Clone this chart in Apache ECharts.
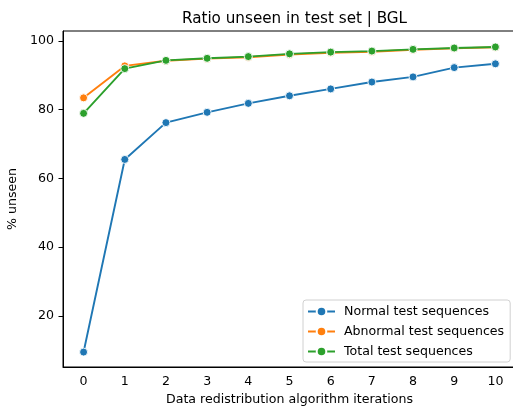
<!DOCTYPE html>
<html><head><meta charset="utf-8">
<script src="https://cdn.jsdelivr.net/npm/echarts@6/dist/echarts.min.js"></script>
<style>html,body{margin:0;padding:0;background:#fff}#c{width:513px;height:409px}</style>
</head><body><div id="c"></div>
<script>
const categories = ['0','1','2','3','4','5','6','7','8','9','10'];
const normalSeq = [9.5, 65.5, 76.2, 79.2, 81.8, 84.0, 86.0, 88.0, 89.5, 92.2, 93.3];
const abnormalSeq = [83.4, 92.7, 94.2, 94.8, 95.2, 96.0, 96.5, 96.8, 97.4, 97.8, 98.1];
const totalSeq = [78.9, 91.9, 94.3, 94.9, 95.4, 96.2, 96.7, 97.0, 97.5, 97.9, 98.2];
const yTicks = [20, 40, 60, 80, 100];

const font = 'DejaVu Sans';
const fs = 12.6;
const chart = echarts.init(document.getElementById('c'), null, {renderer: 'canvas'});
function mk(name, data, color, z) {
  return {
    name, type: 'line', data, z,
    symbol: 'circle', symbolSize: 8,
    lineStyle: {color, width: 1.9},
    itemStyle: {color, borderColor: '#fff', borderWidth: 0.9},
    emphasis: {disabled: true},
    animation: false
  };
}
chart.setOption({
  animation: false,
  title: {
    text: 'Ratio unseen in test set | BGL', left: 289.5, top: 7, textAlign: 'center',
    textStyle: {fontFamily: font, fontSize: 15.2, fontWeight: 'normal', color: '#000'}
  },
  grid: {left: 63, top: 31, right: -3, bottom: 42, containLabel: false, outerBoundsMode: 'none',
         show: true, borderColor: '#000', borderWidth: 1, backgroundColor: 'transparent'},
  legend: {
    orient: 'vertical', left: 303, top: 300, width: 207,
    itemWidth: 27, itemHeight: 12, itemGap: 7,
    padding: [5, 6, 4, 4],
    borderColor: '#d0d0d0', borderWidth: 1, borderRadius: 3, backgroundColor: 'rgba(255,255,255,0.85)',
    textStyle: {fontFamily: font, fontSize: fs, color: '#000', padding: [0, 0, 0, 4]},
    data: ['Normal test sequences', 'Abnormal test sequences', 'Total test sequences']
  },
  xAxis: {
    type: 'category', data: categories, boundaryGap: true,
    name: 'Data redistribution algorithm iterations', nameLocation: 'middle', nameGap: 25,
    nameTextStyle: {fontFamily: font, fontSize: fs, color: '#000'},
    axisLine: {lineStyle: {color: '#000', width: 1}},
    axisTick: {alignWithLabel: true, length: 4.5, lineStyle: {color: '#000', width: 1}},
    axisLabel: {fontFamily: font, fontSize: fs, color: '#000', margin: 8},
    splitLine: {show: false}
  },
  yAxis: {
    type: 'value', min: 5.16, max: 102.84,
    name: '% unseen', nameLocation: 'middle', nameGap: 40,
    nameTextStyle: {fontFamily: font, fontSize: fs, color: '#000'},
    axisLine: {show: true, lineStyle: {color: '#000', width: 1}},
    axisTick: {show: true, length: 4.5, customValues: yTicks, lineStyle: {color: '#000', width: 1}},
    axisLabel: {fontFamily: font, fontSize: fs, color: '#000', margin: 9, customValues: yTicks},
    splitLine: {show: false}
  },
  series: [
    mk('Normal test sequences', normalSeq, '#1f77b4', 2),
    mk('Abnormal test sequences', abnormalSeq, '#ff7f0e', 3),
    mk('Total test sequences', totalSeq, '#2ca02c', 4)
  ]
});
</script>
</body></html>
